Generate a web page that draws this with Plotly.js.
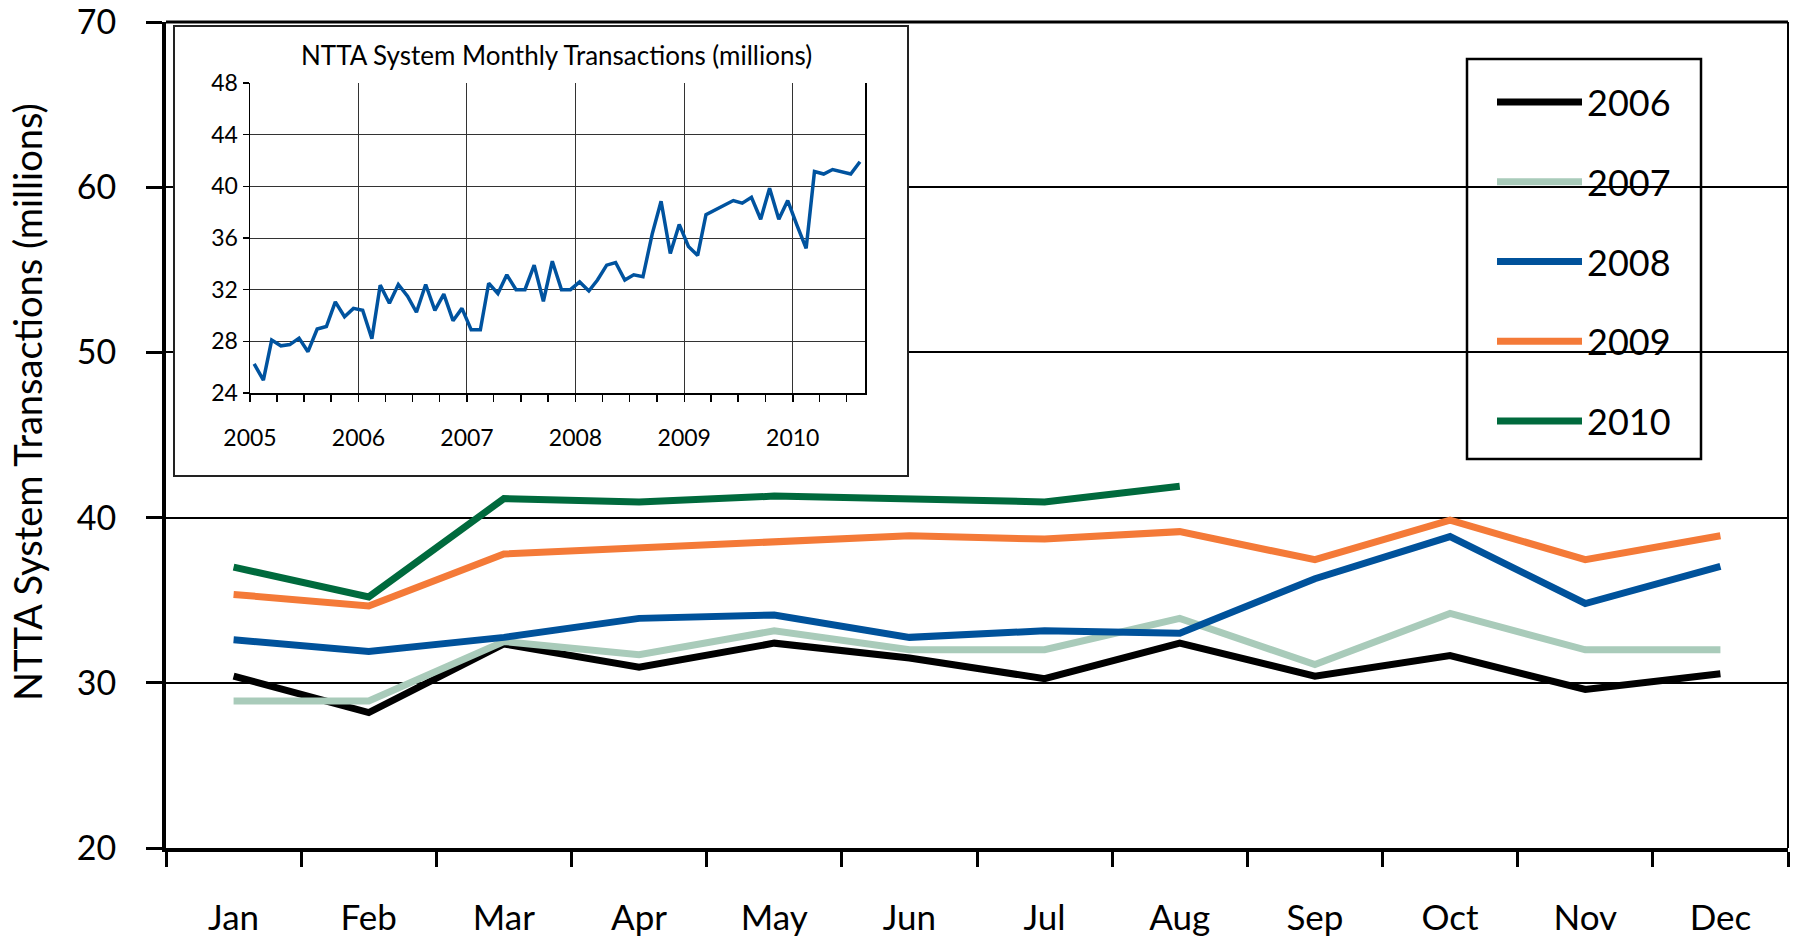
<!DOCTYPE html>
<html>
<head>
<meta charset="utf-8">
<script src="https://cdn.plot.ly/plotly-3.0.1.min.js"></script>
<style>
html,body{margin:0;padding:0;background:#fff;}
#chart{width:1794px;height:940px;}
</style>
</head>
<body>
<div id="chart"></div>
<script>
// ---- data ----
const months = ['Jan','Feb','Mar','Apr','May','Jun','Jul','Aug','Sep','Oct','Nov','Dec'];
const y2005 = [26.25, 25.0, 28.1, 27.65, 27.75, 28.25, 27.2, 28.95, 29.15, 31.05, 29.9, 30.55];
const y2006 = [30.4, 28.2, 32.35, 30.95, 32.4, 31.5, 30.25, 32.4, 30.4, 31.65, 29.6, 30.55];
const y2007 = [28.9, 28.9, 32.5, 31.7, 33.15, 32.0, 32.0, 33.9, 31.1, 34.2, 32.0, 32.0];
const y2008 = [32.6, 31.9, 32.75, 33.9, 34.1, 32.75, 33.15, 33.0, 36.3, 38.85, 34.8, 37.05];
const y2009 = [35.35, 34.65, 37.8, 38.15, 38.5, 38.9, 38.7, 39.15, 37.45, 39.85, 37.45, 38.9];
const y2010 = [37.0, 35.2, 41.15, 40.95, 41.3, 41.1, 40.95, 41.9];
const seriesNames = ['2006','2007','2008','2009','2010'];
const insetYears = [2005, 2006, 2007, 2008, 2009, 2010];
const yTitle = 'NTTA System Transactions (millions)';
const insetTitle = 'NTTA System Monthly Transactions (millions)';

// ---- styles ----
const seriesColors = ['#000000','#A9CBBA','#00529B','#F47A38','#006A3D'];
const seriesValues = [y2006, y2007, y2008, y2009, y2010];
const FONT = 'Lato, "Open Sans", sans-serif';

const traces = seriesNames.map((n, i) => ({
  type: 'scatter', mode: 'lines', name: n,
  x: months.slice(0, seriesValues[i].length),
  y: seriesValues[i],
  xaxis: 'x', yaxis: 'y',
  legendgroup: n,
  line: {color: seriesColors[i], width: 7},
  hoverinfo: 'skip'
}));

// inset box (empty subplot providing white background + frame)
traces.push({type: 'scatter', x: [], y: [], xaxis: 'x2', yaxis: 'y2', showlegend: false, hoverinfo: 'skip'});

// inset monthly series
const insetValues = y2005.concat(y2006, y2007, y2008, y2009, y2010);
const insetDates = insetValues.map((v, i) => {
  const yr = insetYears[Math.floor(i / 12)];
  const m = (i % 12) + 1;
  return yr + '-' + String(m).padStart(2, '0') + '-15';
});
traces.push({
  type: 'scatter', mode: 'lines', x: insetDates, y: insetValues,
  xaxis: 'x3', yaxis: 'y3', showlegend: false, hoverinfo: 'skip',
  line: {color: '#00539F', width: 3.5}
});

// plot area in px: x 166..1788, y 22..848
const L = 166, T = 22, W = 1622, H = 826;
const px = x => (x - L) / W;
const py = y => (T + H - y) / H;

const layout = {
  width: 1794, height: 940,
  margin: {l: L, r: 1794 - L - W, t: T, b: 940 - T - H, pad: 0},
  paper_bgcolor: '#ffffff', plot_bgcolor: '#ffffff',
  font: {family: FONT, color: '#000000', size: 35},
  showlegend: true,
  legend: {
    x: px(1467), y: py(72), xanchor: 'left', yanchor: 'top',
    bgcolor: 'rgba(0,0,0,0)', borderwidth: 0,
    font: {family: FONT, size: 36, color: '#000'},
    tracegroupgap: 30, traceorder: 'grouped', itemwidth: 85, indentation: 25
  },
  xaxis: {
    type: 'category', domain: [0, 1], range: [-0.5, 11.5],
    tickson: 'boundaries', ticks: 'outside', ticklen: 15, tickwidth: 3, tickcolor: '#000',
    showline: true, linewidth: 4, linecolor: '#000',
    showgrid: false, zeroline: false,
    tickfont: {family: FONT, size: 35, color: '#000'},
    ticklabelstandoff: 36
  },
  yaxis: {
    domain: [0, 1], range: [20, 70], dtick: 10, tick0: 0,
    ticks: 'outside', ticklen: 16, tickwidth: 3, tickcolor: '#000',
    showline: true, linewidth: 4, linecolor: '#000',
    showgrid: true, gridcolor: '#000', gridwidth: 2, zeroline: false,
    tickfont: {family: FONT, size: 34, color: '#000'},
    ticklabelstandoff: 23, ticklabeloverflow: 'allow'
  },
  xaxis2: {
    domain: [px(175), px(907)], anchor: 'y2', range: [0, 1],
    showgrid: false, zeroline: false, showticklabels: false, ticks: '',
    showline: true, mirror: true, linecolor: '#222', linewidth: 2, fixedrange: true
  },
  yaxis2: {
    domain: [py(475), py(27)], anchor: 'x2', range: [0, 1],
    showgrid: false, zeroline: false, showticklabels: false, ticks: '',
    showline: true, mirror: true, linecolor: '#222', linewidth: 2, fixedrange: true
  },
  xaxis3: {
    type: 'date', domain: [px(250), px(865)], anchor: 'y3',
    range: ['2005-01-01', '2010-09-01'],
    tick0: '2005-01-01', dtick: 'M12', tickformat: '%Y',
    ticks: 'outside', ticklen: 7, tickwidth: 1.5, tickcolor: '#000',
    showgrid: true, gridcolor: '#333', gridwidth: 1,
    showline: true, linecolor: '#000', linewidth: 2,
    zeroline: false,
    minor: {tick0: '2005-01-01', dtick: 'M3', ticks: 'outside', ticklen: 7, tickwidth: 1.5, tickcolor: '#000', showgrid: false},
    tickfont: {family: FONT, size: 23, color: '#000'},
    ticklabelstandoff: 16
  },
  yaxis3: {
    domain: [py(393), py(83)], anchor: 'x3', range: [24, 48], dtick: 4, tick0: 0,
    ticks: 'outside', ticklen: 6, tickwidth: 1.5, tickcolor: '#000',
    showgrid: true, gridcolor: '#333', gridwidth: 1,
    showline: true, mirror: true, linecolor: '#000', linewidth: 1.5,
    zeroline: false,
    tickfont: {family: FONT, size: 23, color: '#000'},
    ticklabelstandoff: 0
  },
  annotations: [
    {
      text: insetTitle, xref: 'paper', yref: 'paper', x: px(556), y: py(55),
      xanchor: 'center', yanchor: 'middle', showarrow: false,
      font: {family: FONT, size: 26, color: '#000'}
    },
    {
      text: yTitle, xref: 'paper', yref: 'paper', x: px(27), y: py(402),
      xanchor: 'center', yanchor: 'middle', showarrow: false, textangle: -90,
      font: {family: FONT, size: 38, color: '#000'}
    }
  ],
  shapes: [
    // plot-area frame (top and right)
    {type: 'line', xref: 'paper', yref: 'paper', x0: 0, x1: 1, y0: 1, y1: 1, line: {color: '#000', width: 3}},
    {type: 'line', xref: 'paper', yref: 'paper', x0: 1, x1: 1, y0: 0, y1: 1, line: {color: '#000', width: 2}},
    // legend frame
    {type: 'rect', xref: 'paper', yref: 'paper', x0: px(1467), x1: px(1701), y0: py(459), y1: py(59),
     line: {color: '#000', width: 2.5}, fillcolor: 'rgba(0,0,0,0)'}
  ]
};

Plotly.newPlot('chart', traces, layout, {staticPlot: true, displayModeBar: false});
</script>
</body>
</html>
